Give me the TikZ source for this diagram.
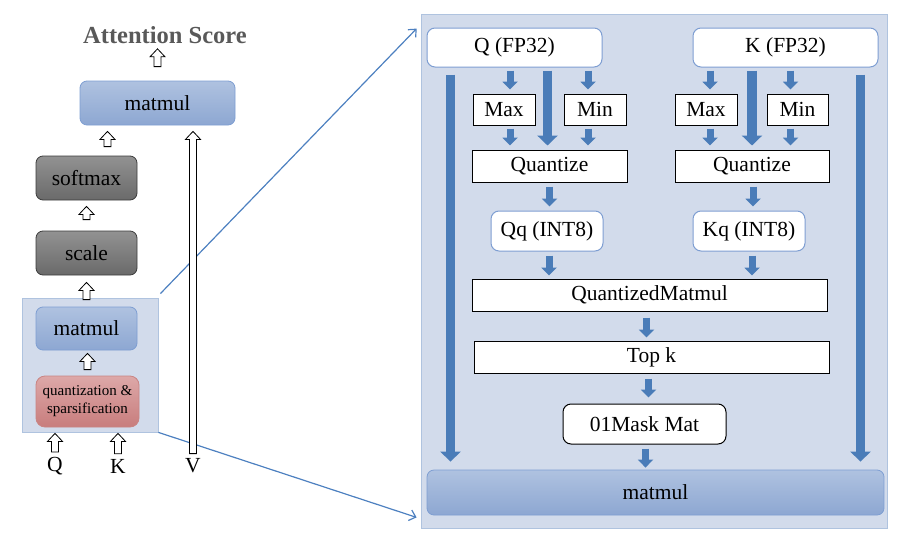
\documentclass[tikz,border=0pt]{standalone}
\usepackage{fontspec}
\setmainfont{Liberation Serif}
\usetikzlibrary{calc,arrows.meta}
\definecolor{mmtop}{HTML}{AFC2E0}
\definecolor{mmbot}{HTML}{8DA7D2}
\definecolor{mmedge}{HTML}{7E9ED2}
\definecolor{gtop}{HTML}{929292}
\definecolor{gbot}{HTML}{6A6A6A}
\definecolor{gedge}{HTML}{3C3C3C}
\definecolor{rtop}{HTML}{DDA8A8}
\definecolor{rbot}{HTML}{C87D7D}
\definecolor{redge}{HTML}{C98483}
\definecolor{panelfill}{HTML}{D2DBEB}
\definecolor{paneledge}{HTML}{AFC3DF}
\definecolor{flowblue}{HTML}{4A7CB8}
\definecolor{zoomblue}{HTML}{4D80C0}
\definecolor{titlegray}{HTML}{595959}
\newcommand{\hollowup}[2]{%
  \draw[hollow] let \p1=#1, \p2=#2 in
    (\x1-3.5pt,\y1) -- (\x1-3.5pt,\y2-8pt) -- (\x1-7.5pt,\y2-8pt) -- (\x1,\y2)
    -- (\x1+7.5pt,\y2-8pt) -- (\x1+3.5pt,\y2-8pt) -- (\x1+3.5pt,\y1) -- cycle;}
\tikzset{
  every node/.style={font=\fontsize{21.5}{23}\selectfont, inner sep=0pt},
  bluebox/.style={draw=mmedge, line width=0.8pt, rounded corners=7pt, top color=mmtop, bottom color=mmbot},
  graybox/.style={draw=gedge, line width=0.8pt, rounded corners=7pt, top color=gtop, bottom color=gbot,
    minimum width=101pt, minimum height=44pt},
  redbox/.style={draw=redge, line width=0.8pt, rounded corners=9pt, top color=rtop, bottom color=rbot},
  fpbox/.style={draw=mmedge, line width=1pt, fill=white, rounded corners=8pt},
  opbox/.style={draw=black, line width=1pt, fill=white},
  panel/.style={draw=paneledge, line width=0.8pt, fill=panelfill},
  flow/.style={draw=flowblue, line width=7pt, -{Triangle[width=15pt,length=8pt]}},
  bigflow/.style={draw=flowblue, line width=9.5pt, -{Triangle[width=20pt,length=10pt]}},
  hollow/.style={draw=black, line width=0.8pt, fill=white},
  zoomline/.style={draw=zoomblue, line width=1.2pt, -{Straight Barb[length=6pt,width=11pt]}}
}
\begin{document}
\begin{tikzpicture}[x=1pt,y=-1pt]
\useasboundingbox (0,0) rectangle (907,546);
% panels
\node[panel, minimum width=136pt, minimum height=134pt] (panelL) at (90,365) {};
\node[panel, minimum width=466pt, minimum height=514pt] (panelR) at (654,271) {};

% left stack
\node[font=\fontsize{24.5}{26}\selectfont\bfseries, text=titlegray] (title) at (165,35) {Attention Score};
\node[bluebox, minimum width=155pt, minimum height=44pt] (mmout) at (157.5,103) {matmul};
\node[graybox] (softmax) at (86.5,178) {softmax};
\node[graybox] (scale) at (86.5,253) {scale};
\node[bluebox, minimum width=101pt, minimum height=43pt] (mmqk) at (86.5,328.5) {matmul};
\node[redbox, minimum width=103pt, minimum height=51pt, align=center,
  font=\fontsize{15}{18}\selectfont] (quant) at (87.5,401.5) {quantization \&\\sparsification};
\node (lq) at (55,466) {Q};
\node (lk) at (118,466) {K};
\node (lv) at (193,466) {V};

% zoom lines
\draw[zoomline] ([xshift=2pt,yshift=4pt]panelL.north east) -- ([xshift=-4pt,yshift=-15pt]panelR.north west);
\draw[zoomline] (panelL.south east) -- ([xshift=-4pt,yshift=11pt]panelR.south west);

% hollow arrows
\hollowup{([yshift=14pt]mmout.north)}{([yshift=-5pt]title.south)}
\hollowup{([xshift=21pt,yshift=9pt]softmax.north)}{([yshift=-6pt]mmout.south)}
\hollowup{([yshift=11pt]scale.north)}{([yshift=-6pt]softmax.south)}
\hollowup{([yshift=7pt]mmqk.north)}{([yshift=-7pt]scale.south)}
\hollowup{([yshift=6pt]quant.north)}{([yshift=-3pt]mmqk.south)}
\hollowup{([yshift=5pt]lq.north)}{([yshift=-6pt]quant.south)}
\hollowup{([yshift=5pt]lk.north)}{([yshift=-6pt]quant.south)}
\hollowup{([yshift=5pt]lv.north)}{([yshift=-6pt]mmout.south)}

% right detail
\node[fpbox, minimum width=175pt, minimum height=39pt] (qfp) at (514.5,47.5) {Q (FP32)};
\node[fpbox, minimum width=185pt, minimum height=39pt] (kfp) at (785.5,47.5) {K (FP32)};
\node[opbox, minimum width=62pt, minimum height=31pt] (maxq) at (504,109.5) {Max};
\node[opbox, minimum width=62pt, minimum height=31pt] (minq) at (595,109.5) {Min};
\node[opbox, minimum width=155pt, minimum height=32pt] (quq) at (549.5,166) {Quantize};
\node[opbox, minimum width=62pt, minimum height=31pt] (maxk) at (706,109.5) {Max};
\node[opbox, minimum width=61pt, minimum height=31pt] (mink) at (797.5,109.5) {Min};
\node[opbox, minimum width=154pt, minimum height=32pt] (quk) at (752,166) {Quantize};
\node[fpbox, minimum width=112pt, minimum height=40pt] (qq) at (547,231) {Qq (INT8)};
\node[fpbox, minimum width=112pt, minimum height=40pt] (kq) at (749,231) {Kq (INT8)};
\node[opbox, minimum width=355pt, minimum height=32pt] (qmm) at (649.5,295) {QuantizedMatmul};
\node[opbox, minimum width=355pt, minimum height=32pt] (topk) at (651.5,357) {Top k};
\node[opbox, rounded corners=8pt, minimum width=163pt, minimum height=40pt] (mask) at (644.5,424) {01Mask Mat};
\node[bluebox, minimum width=457pt, minimum height=45pt] (mm3) at (655.5,492.5) {matmul};

% Q branch
\draw[flow] ($(maxq.north |- qfp.south)+(6,3)$) -- ($(maxq.north)+(6,-4)$);
\draw[flow] ($(minq.north |- qfp.south)+(-7,3)$) -- ($(minq.north)+(-7,-4)$);
\draw[bigflow] ($(quq.north |- qfp.south)+(-2,3)$) -- ($(quq.north)+(-2,-4)$);
\draw[flow] ($(maxq.south)+(6,3)$) -- ($(maxq.south |- quq.north)+(6,-4)$);
\draw[flow] ($(minq.south)+(-7,3)$) -- ($(minq.south |- quq.north)+(-7,-4)$);
\draw[flow] ($(quq.south)+(0,4)$) -- ($(quq.south |- qq.north)+(0,-4)$);
\draw[flow] ($(qq.south)+(2,4)$) -- ($(qq.south |- qmm.north)+(2,-3)$);
% K branch
\draw[flow] ($(maxk.north |- kfp.south)+(4,3)$) -- ($(maxk.north)+(4,-4)$);
\draw[flow] ($(mink.north |- kfp.south)+(-7,3)$) -- ($(mink.north)+(-7,-4)$);
\draw[bigflow] ($(quk.north |- kfp.south)+(0,3)$) -- ($(quk.north)+(0,-4)$);
\draw[flow] ($(maxk.south)+(4,3)$) -- ($(maxk.south |- quk.north)+(4,-4)$);
\draw[flow] ($(mink.south)+(-7,3)$) -- ($(mink.south |- quk.north)+(-7,-4)$);
\draw[flow] ($(quk.south)+(1,4)$) -- ($(quk.south |- kq.north)+(1,-4)$);
\draw[flow] ($(kq.south)+(3,4)$) -- ($(kq.south |- qmm.north)+(3,-3)$);
% merge
\draw[flow] ($(qmm.south)+(-3,6)$) -- ($(qmm.south |- topk.north)+(-3,-3)$);
\draw[flow] ($(topk.south)+(-3,5)$) -- ($(topk.south |- mask.north)+(-3,-6)$);
\draw[flow] ($(mask.south)+(1,4)$) -- ($(mask.south |- mm3.north)+(1,-2)$);
% bypass
\draw[bigflow] ($(qfp.south west)+(24,7)$) -- ($(qfp.south west |- mm3.north)+(24,-8)$);
\draw[bigflow] ($(kfp.south east)+(-18,7)$) -- ($(kfp.south east |- mm3.north)+(-18,-8)$);
\end{tikzpicture}
\end{document}
